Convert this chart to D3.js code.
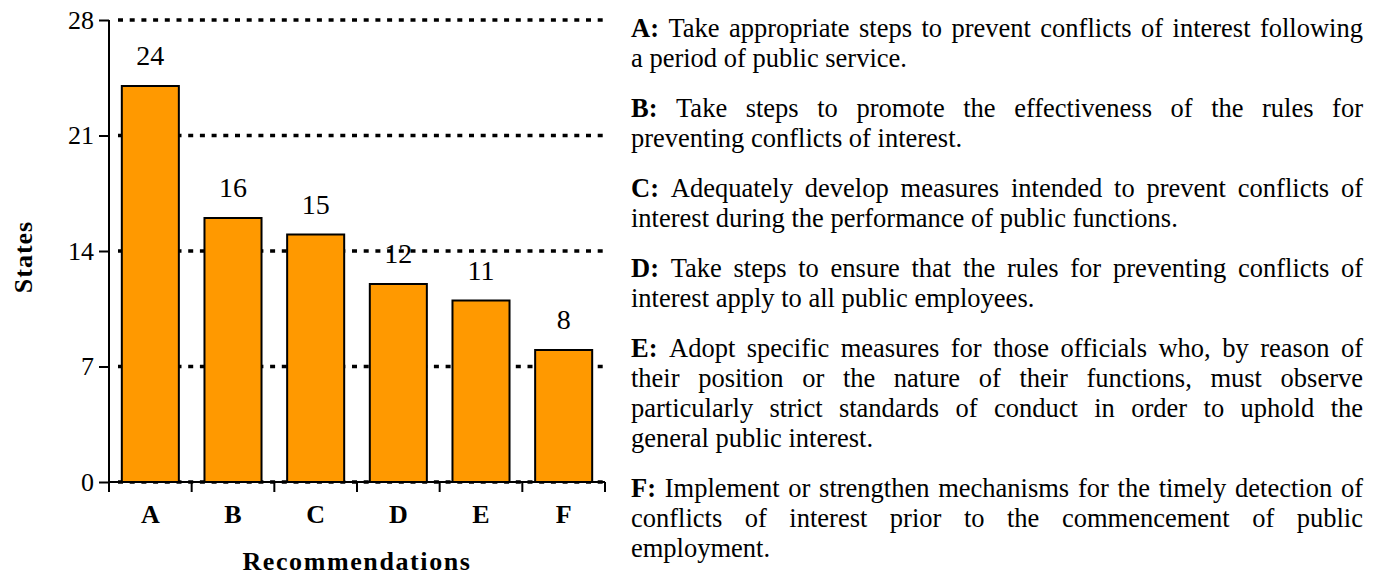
<!DOCTYPE html>
<html>
<head>
<meta charset="utf-8">
<script src="https://cdn.jsdelivr.net/npm/d3@7"></script>
<style>
  html, body { margin: 0; padding: 0; background: #fff; }
  svg { display: block; }
  text { font-family: "Liberation Serif", "Times New Roman", serif; fill: #000; }
</style>
</head>
<body>
<svg id="chart" width="1377" height="576"></svg>
<script>
const categories = ["A", "B", "C", "D", "E", "F"];
const values = [24, 16, 15, 12, 11, 8];
const yTicks = [0, 7, 14, 21, 28];
const yTitle = "States";
const xTitle = "Recommendations";
const notes = [
  ["A:", ["Take appropriate steps to prevent conflicts of interest following", "a period of public service."]],
  ["B:", ["Take steps to promote the effectiveness of the rules for", "preventing conflicts of interest."]],
  ["C:", ["Adequately develop measures intended to prevent conflicts of", "interest during the performance of public functions."]],
  ["D:", ["Take steps to ensure that the rules for preventing conflicts of", "interest apply to all public employees."]],
  ["E:", ["Adopt specific measures for those officials who, by reason of", "their position or the nature of their functions, must observe", "particularly strict standards of conduct in order to uphold the", "general public interest."]],
  ["F:", ["Implement or strengthen mechanisms for the timely detection of", "conflicts of interest prior to the commencement of public", "employment."]]
];

const svg = d3.select("#chart");
const x0 = 109, x1 = 605, yTop = 20, yBot = 482;

const y = d3.scaleLinear().domain([0, 28]).range([yBot, yTop]);
const x = d3.scaleBand().domain(categories).range([x0, x1]).paddingInner(0.31).paddingOuter(0.155);

// gridlines (behind bars)
svg.append("g").selectAll("line").data(yTicks).join("line")
  .attr("x1", 118).attr("x2", 605)
  .attr("y1", d => y(d)).attr("y2", d => y(d))
  .attr("stroke", "#000").attr("stroke-width", 3.5)
  .attr("stroke-dasharray", "5,6.7");

// bars
svg.append("g").selectAll("rect").data(values).join("rect")
  .attr("x", (d, i) => x(categories[i]))
  .attr("y", d => y(d))
  .attr("width", x.bandwidth())
  .attr("height", d => y(0) - y(d))
  .attr("fill", "#FF9900")
  .attr("stroke", "#000").attr("stroke-width", 2);

// value labels
svg.append("g").selectAll("text").data(values).join("text")
  .attr("x", (d, i) => x(categories[i]) + x.bandwidth() / 2)
  .attr("y", d => y(d) - 21)
  .attr("text-anchor", "middle")
  .attr("font-size", 28)
  .text(d => d);

// y axis
const yAxis = svg.append("g").attr("transform", `translate(${x0},0)`)
  .call(d3.axisLeft(y).tickValues(yTicks).tickSize(10).tickPadding(5));
yAxis.select(".domain").attr("stroke", "#000").attr("stroke-width", 2)
  .attr("d", `M0,${yTop}V${yBot}`);
yAxis.selectAll(".tick line").attr("stroke", "#000").attr("stroke-width", 2);
yAxis.selectAll(".tick text").attr("font-size", 26)
  .attr("font-family", '"Liberation Serif", serif').attr("fill", "#000");

// x axis
const step = x.step();
const bounds = d3.range(categories.length + 1).map(i => x0 + i * step);
const xa = svg.append("g");
xa.append("line").attr("x1", x0).attr("x2", x1).attr("y1", yBot).attr("y2", yBot)
  .attr("stroke", "#000").attr("stroke-width", 2);
xa.selectAll("line.b").data(bounds).join("line").attr("class", "b")
  .attr("x1", d => d).attr("x2", d => d).attr("y1", yBot).attr("y2", yBot + 10)
  .attr("stroke", "#000").attr("stroke-width", 2);
xa.selectAll("text").data(categories).join("text")
  .attr("x", d => x(d) + x.bandwidth() / 2)
  .attr("y", 523)
  .attr("text-anchor", "middle")
  .attr("font-size", 26).attr("font-weight", "bold")
  .text(d => d);

// axis titles
svg.append("text")
  .attr("transform", "translate(32,257) rotate(-90)")
  .attr("text-anchor", "middle")
  .attr("font-size", 26).attr("font-weight", "bold")
  .attr("letter-spacing", 1)
  .text(yTitle);
svg.append("text")
  .attr("x", 357).attr("y", 570)
  .attr("text-anchor", "middle")
  .attr("font-size", 26).attr("font-weight", "bold")
  .attr("letter-spacing", 1.6)
  .text(xTitle);

// notes, justified
const tx0 = 631, tx1 = 1363, lineH = 30, paraGap = 20;
const fs = 26.5;
let by = 37;
const ng = svg.append("g");
function wordWidth(w, bold) {
  const t = ng.append("text").attr("font-size", fs).attr("font-weight", bold ? "bold" : "normal").text(w);
  const len = t.node().getComputedTextLength();
  t.remove();
  return len;
}
const spaceW = wordWidth("a a", false) - wordWidth("aa", false);
notes.forEach(([lab, lines]) => {
  lines.forEach((ln, li) => {
    const words = ln.split(" ").map(w => ({ w, bold: false }));
    if (li === 0) words.unshift({ w: lab, bold: true });
    words.forEach(o => o.len = wordWidth(o.w, o.bold));
    const total = d3.sum(words, o => o.len);
    const last = li === lines.length - 1;
    const gap = last ? spaceW : (tx1 - tx0 - total) / (words.length - 1);
    let cx = tx0;
    words.forEach(o => {
      ng.append("text").attr("x", cx).attr("y", by)
        .attr("font-size", fs).attr("font-weight", o.bold ? "bold" : "normal")
        .text(o.w);
      cx += o.len + gap;
    });
    by += lineH;
  });
  by += paraGap;
});
</script>
</body>
</html>
